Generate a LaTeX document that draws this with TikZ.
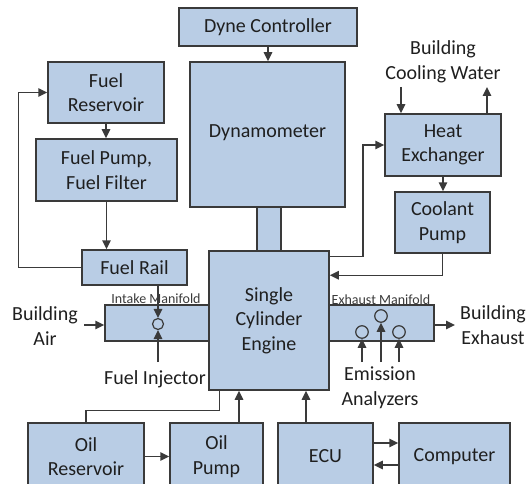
\documentclass[tikz,border=0pt]{standalone}
\usepackage{fontspec}
\setmainfont{Carlito}
\usepackage{xcolor}
\usetikzlibrary{arrows.meta,positioning,calc,shapes.geometric}

\definecolor{boxfill}{HTML}{B9CDE5}
\definecolor{boxline}{HTML}{3A3A3A}
\definecolor{txt}{HTML}{1F1F1F}

\begin{document}
\begin{tikzpicture}[
  x=1pt, y=-1pt,
  font=\fontsize{20}{24.5}\selectfont, text=txt,
  every node/.style={align=center},
  box/.style={rectangle, draw=boxline, fill=boxfill, line width=1.5pt, inner sep=0pt},
  valve/.style={ellipse, draw=boxline, line width=1.2pt, inner sep=0pt, minimum width=#1, minimum height=#1},
  small/.style={font=\fontsize{14}{16}\selectfont, text=boxline},
  arrow/.style={-{Triangle[length=9pt,width=8.5pt]}, line width=1.5pt, draw=boxline},
  line/.style={line width=1.5pt, draw=boxline}
]
\useasboundingbox (0,0) rectangle (527,484);

% top row
\node[box, minimum width=178, minimum height=38] (dyne) at (268,27) {Dyne Controller};
\node[box, minimum width=155, minimum height=145] (dyno) at (267.5,134.5) {\raisebox{6pt}{Dynamometer}};
\node[box, minimum width=24, minimum height=44] (shaft) at (269,229) {};

% fuel side
\node[box, minimum width=116, minimum height=61] (fres) at (106,92.5) {Fuel\\Reservoir};
\node[box, minimum width=141, minimum height=62] (fpump) at (106.5,170) {Fuel Pump,\\Fuel Filter};
\node[box, minimum width=105, minimum height=35] (frail) at (134.5,267.5) {Fuel Rail};

% engine and manifolds
\node[box, minimum width=104, minimum height=36] (intake) at (157,323) {};
\node[box, minimum width=105, minimum height=36] (exhaust) at (381.5,323) {};
\node[box, minimum width=120, minimum height=139] (engine) at (269,320.5) {Single\\Cylinder\\Engine};
\node[small] (intlbl) at (156,299) {Intake Manifold};
\node[small] (exhlbl) at (381,299.5) {Exhaust Manifold};
\node[valve=11pt] (inj) at (158,324) {};
\node[valve=12.5pt] (em1) at (362,332) {};
\node[valve=12.5pt] (em2) at (381,316) {};
\node[valve=12.5pt] (em3) at (399,332) {};

% cooling
\node[box, minimum width=116, minimum height=62] (hex) at (443,145) {Heat\\Exchanger};
\node[box, minimum width=95, minimum height=61] (cpump) at (442.5,222.5) {Coolant\\Pump};

% bottom row
\node[box, minimum width=116, minimum height=67] (ores) at (86,456.5) {Oil\\Reservoir};
\node[box, minimum width=93, minimum height=67] (opump) at (216.5,456.5) {Oil\\Pump};
\node[box, minimum width=95, minimum height=67] (ecu) at (325.5,456.5) {ECU};
\node[box, minimum width=111, minimum height=67] (comp) at (454.5,456.5) {Computer};

% plain labels
\node (bair) at (45,326) {Building\\Air};
\node (bexh) at (493,325) {Building\\Exhaust};
\node (bcw) at (443,62) {Building\\Cooling Water};
\node (finj) at (155,379) {Fuel Injector};
\node (eman) at (380,387.5) {Emission\\Analyzers};

\coordinate (airin) at (84,325);
\coordinate (exout) at (455,325);
\coordinate (cwin) at (401,87);
\coordinate (cwout) at (487,87);
\coordinate (injin) at (158,362);

% connectors
\draw[arrow] (dyne.south) -- (dyne.south |- dyno.north);
\draw[arrow] (fres.south) -- (fres.south |- fpump.north);
\draw[arrow] (fpump.south) -- (fpump.south |- frail.north);
\draw[arrow] (frail.west) -- ++(-63,0) |- (fres.west);
\draw[arrow] (frail.south -| inj) -- (inj.north);
\draw[arrow] (injin) -- (inj.south);
\draw[arrow] (airin) -- (intake.west |- airin);
\draw[arrow] (exhaust.east |- exout) -- (exout);
\draw[arrow] (em1 |- injin) -- (em1.south);
\draw[arrow] (em2 |- injin) -- (em2.south);
\draw[arrow] (em3 |- injin) -- (em3.south);
\draw[arrow] (cwin) -- (cwin |- hex.north);
\draw[arrow] (cwout |- hex.north) -- (cwout);
\draw[arrow] ([yshift=-6pt]engine.north east) -- ++(33,0) |- (hex.west);
\draw[arrow] (hex.south) -- (hex.south |- cpump.north);
\draw[arrow] (cpump.south) |- ([yshift=-25pt]engine.north east);
\draw[line] (ores.north) -- ++(0,-12) -| ([xshift=11pt]engine.south west);
\draw[arrow] (ores.east) -- (opump.west);
\draw[arrow] (opump.north) ++(22.5,0) coordinate (op) -- (op |- engine.south);
\draw[arrow] (ecu.north) ++(-19.5,0) coordinate (ec) -- (ec |- engine.south);
\draw[arrow] ([yshift=13.5pt]ecu.east) -- ([yshift=13.5pt]comp.west);
\draw[arrow] ([yshift=-8.5pt]comp.west) -- ([yshift=-8.5pt]ecu.east);

\end{tikzpicture}
\end{document}
